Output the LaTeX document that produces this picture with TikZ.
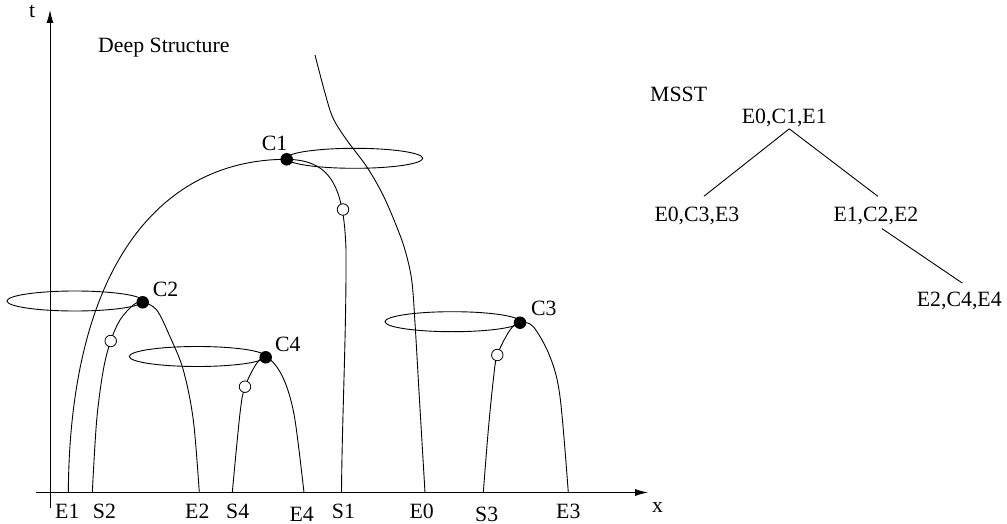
\documentclass[tikz,border=0pt]{standalone}
\usepackage{fontspec}
\setmainfont{Liberation Serif}
\usetikzlibrary{arrows.meta}

\tikzset{
  lbl/.style={anchor=base west,inner sep=0pt,font=\fontsize{21.8}{26}\selectfont},
  critpt/.style={circle,fill=black,inner sep=0pt,minimum size=12.5pt},
  saddlept/.style={circle,draw=black,fill=white,line width=0.8pt,inner sep=0pt,minimum size=11.5pt},
  track/.style={line width=0.9pt,smooth,tension=0.55},
  ring/.style={line width=0.9pt},
  treeedge/.style={line width=0.9pt}
}

\begin{document}
\begin{tikzpicture}[x=1pt,y=-1pt,>={Latex[length=13pt,width=7pt]}]
  \useasboundingbox (0,0) rectangle (1007,524);

  % axes
  \draw[->,line width=0.9pt] (36,492.5) -- (648,492.5);
  \draw[->,line width=0.9pt] (50,508) -- (50,10);
  \node[lbl] (tlab) at (29,17.5) {t};
  \node[lbl] (xlab) at (652,512) {x};
  \node[lbl] (title) at (98,52.7) {Deep Structure};

  % scale space paths
  \draw[line width=0.9pt] (68.3,492.5) .. controls (70,259.4) and (165,159.3) .. (286.7,159.3)
    .. controls (330,160) and (344,185) .. (346,250)
    .. controls (346.5,330) and (342,420) .. (341.5,492.5);
  \draw[track] plot coordinates {(315,55) (325,93) (333,118) (346.7,140) (366.7,166.7) (383,195) (396.7,226.7) (405,250) (411.7,280) (415,323) (419.5,400) (425,492.5)};
  \draw[track] plot coordinates {(92.3,492.5) (96.7,420) (103.3,370) (110.7,341) (120,320) (133.3,305) (142.7,302.3) (156.7,310) (170,336.7) (183.3,370) (193.3,420) (199.3,492.5)};
  \draw[track] plot coordinates {(232.3,492.5) (240,413.3) (245,386.7) (256.7,363.3) (265.7,357.3) (276.7,366.7) (286.7,386.7) (295,420) (304,492.5)};
  \draw[track] plot coordinates {(483.3,492.5) (488.3,430) (493.3,380) (497.3,355) (510,330) (520,322.7) (533.3,326.7) (550,356.7) (560,396.7) (568.3,492.5)};

  % iso-intensity rings
  \draw[ring] (354.7,158.3) ellipse [x radius=68, y radius=10];
  \draw[ring] (75,301) ellipse [x radius=68, y radius=10];
  \draw[ring] (197.3,356.5) ellipse [x radius=68, y radius=10];
  \draw[ring] (452.5,321.7) ellipse [x radius=67.5, y radius=10];

  % catastrophe points
  \node[critpt] (c1) at (286.7,159.3) {};
  \node[critpt] (c2) at (142.7,302.3) {};
  \node[critpt] (c3) at (520,322.7) {};
  \node[critpt] (c4) at (265.7,357.3) {};
  \node[saddlept] (s1pt) at (343,209.5) {};
  \node[saddlept] (s2pt) at (110.7,341) {};
  \node[saddlept] (s3pt) at (497.3,355) {};
  \node[saddlept] (s4pt) at (245,386.7) {};
  \node[lbl] (c1lab) at (261.7,150) {C1};
  \node[lbl] (c2lab) at (152.7,296) {C2};
  \node[lbl] (c3lab) at (531,315) {C3};
  \node[lbl] (c4lab) at (275,351.7) {C4};

  % labels on x axis
  \node[lbl] (e1) at (55,518.3) {E1};
  \node[lbl] (s2) at (92.7,518.3) {S2};
  \node[lbl] (e2) at (185,518.3) {E2};
  \node[lbl] (s4) at (226,518.3) {S4};
  \node[lbl] (e4) at (289.3,521.3) {E4};
  \node[lbl] (s1) at (331.7,518.3) {S1};
  \node[lbl] (e0) at (409.3,518.3) {E0};
  \node[lbl] (s3) at (475,521.3) {S3};
  \node[lbl] (e3) at (556,518.3) {E3};

  % MSST
  \node[lbl] (msst) at (650,101.7) {MSST};
  \node[lbl] (root) at (741.7,123.3) {E0,C1,E1};
  \node[lbl] (lc) at (654.3,221) {E0,C3,E3};
  \node[lbl] (rc) at (833.3,221) {E1,C2,E2};
  \node[lbl] (rrc) at (916.7,306.7) {E2,C4,E4};

  \draw[treeedge] ([xshift=5pt,yshift=-2pt]root.south) -- ([xshift=7pt,yshift=10pt]lc.north);
  \draw[treeedge] ([xshift=5pt,yshift=-2pt]root.south) -- ([xshift=2pt,yshift=10pt]rc.north);
  \draw[treeedge] ([xshift=6pt,yshift=-4pt]rc.south) -- ([xshift=3pt,yshift=9pt]rrc.north);
\end{tikzpicture}
\end{document}
